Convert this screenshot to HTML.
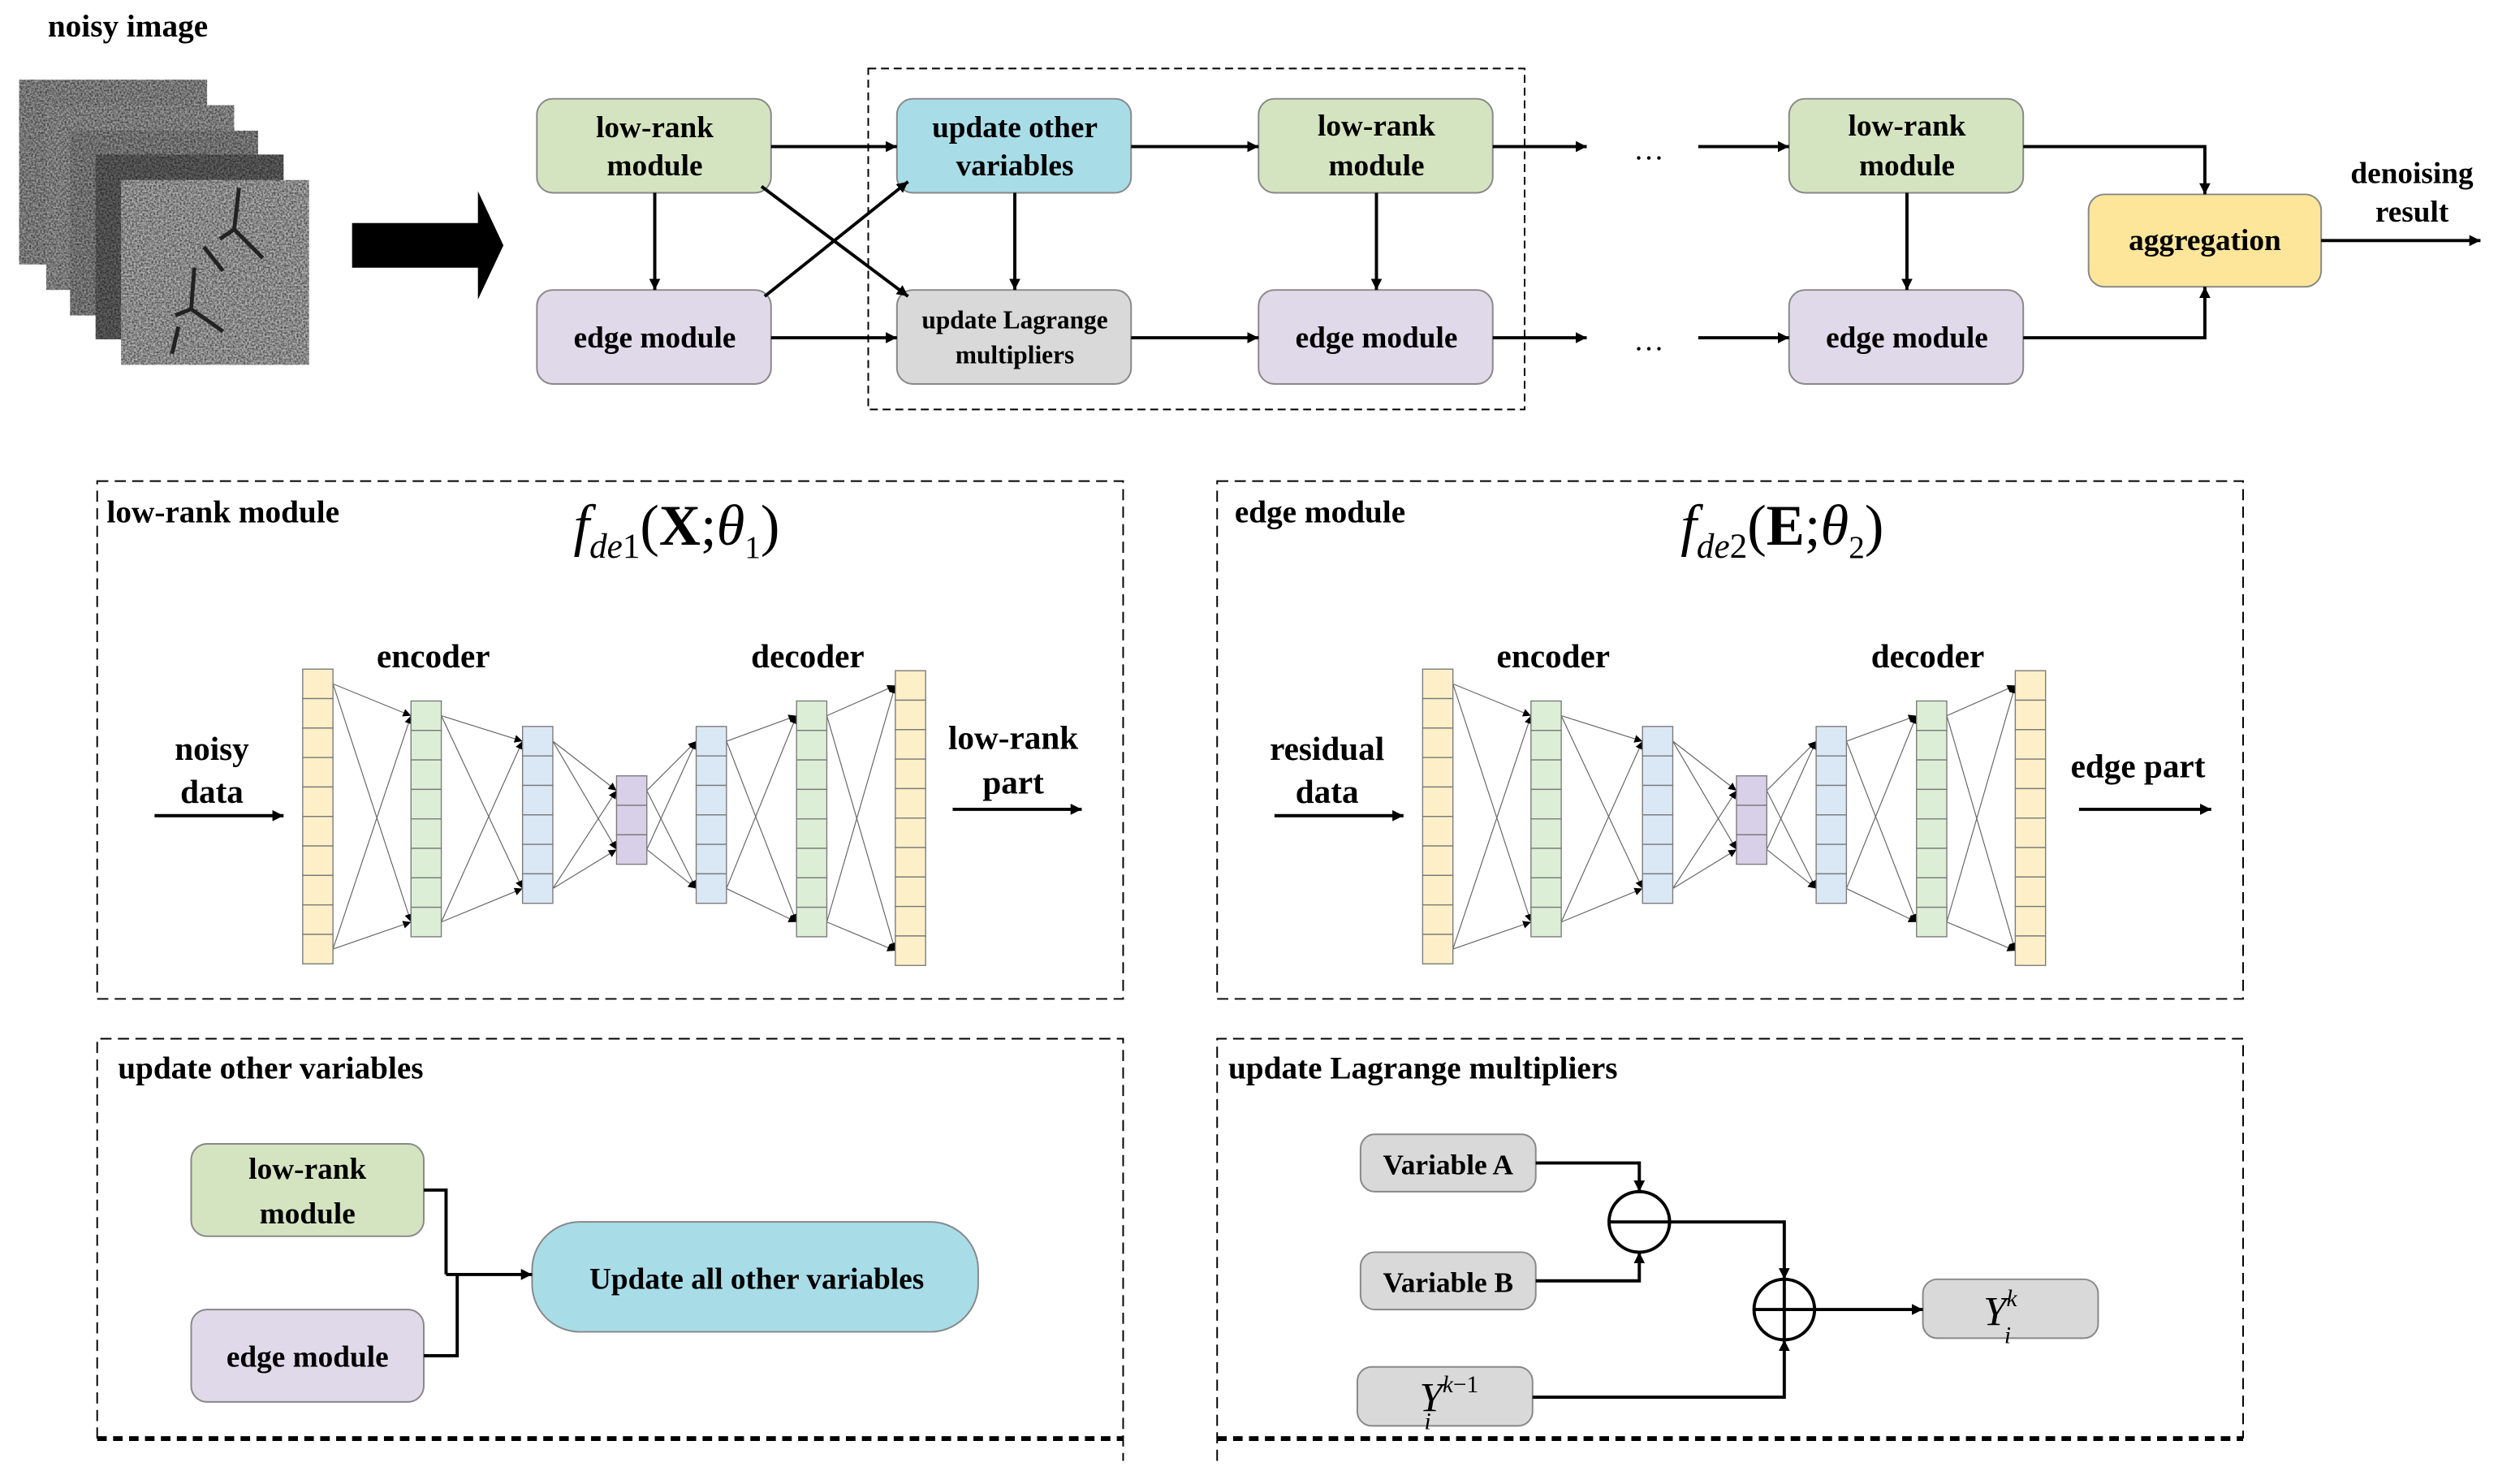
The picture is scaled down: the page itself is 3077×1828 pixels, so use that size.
<!DOCTYPE html>
<html><head><meta charset="utf-8"><style>
html,body{margin:0;padding:0;background:#fff;}
svg{display:block;font-family:"Liberation Serif","Times New Roman",serif;}
svg text{font-family:"Liberation Serif","Times New Roman",serif;font-weight:bold;fill:#000;}
.m{font-size:19px;text-anchor:middle;}
.h{font-size:20px;}
</style></head><body>
<svg id="s" width="3077" height="1828" viewBox="0 0 1568 931.5" font-family="Liberation Serif, serif" xmlns="http://www.w3.org/2000/svg">
<defs>
<marker id="a" viewBox="0 0 10 10" refX="10" refY="5" markerWidth="7" markerHeight="7" orient="auto" markerUnits="userSpaceOnUse"><path d="M0,0L10,5L0,10z" fill="#000"/></marker>
<marker id="sa" viewBox="0 0 10 10" refX="10" refY="5" markerWidth="5" markerHeight="5" orient="auto" markerUnits="userSpaceOnUse"><path d="M0,0L10,5L0,10z" fill="#000"/></marker>
<filter id="n" x="0" y="0" width="1" height="1"><feTurbulence type="fractalNoise" baseFrequency="0.9" numOctaves="2" seed="3"/><feColorMatrix type="matrix" values="0 0 0 0 0 0 0 0 0 0 0 0 0 0 0 0 0 0 -1.2 0.85"/><feComposite in2="SourceGraphic" operator="in"/></filter>
</defs>
<text x="30" y="23" class="h">noisy image</text>
<g stroke="none">
<rect x="12" y="50" width="118" height="116" fill="#9a9a9a"/><rect x="12" y="50" width="118" height="116" fill="#fff" filter="url(#n)"/>
<rect x="29" y="66" width="118" height="116" fill="#a0a0a0"/><rect x="29" y="66" width="118" height="116" fill="#fff" filter="url(#n)"/>
<rect x="44" y="82" width="118" height="116" fill="#909090"/><rect x="44" y="82" width="118" height="116" fill="#fff" filter="url(#n)"/>
<rect x="60" y="97" width="118" height="116" fill="#666"/><rect x="60" y="97" width="118" height="116" fill="#fff" filter="url(#n)"/>
<rect x="76" y="113" width="118" height="116" fill="#b4b4b4"/><rect x="76" y="113" width="118" height="116" fill="#fff" filter="url(#n)"/>
</g>
<g stroke="#222" stroke-width="2.5" fill="none"><path d="M150,118L147,144L138,150M147,144L165,162M128,155L140,170"/><path d="M122,168L120,194L110,198M120,194L140,208M112,205L108,222"/></g>
<path d="M221,140H300V120L316,154L300,188V168H221z" fill="#000"/>

<g stroke="#888" stroke-width="1">
<rect x="337" y="62" width="147" height="59" rx="10" fill="#d5e4c0"/>
<rect x="337" y="182" width="147" height="59" rx="10" fill="#e0d9e9"/>
<rect x="563" y="62" width="147" height="59" rx="10" fill="#a8dde8"/>
<rect x="563" y="182" width="147" height="59" rx="10" fill="#d9d9d9"/>
<rect x="790" y="62" width="147" height="59" rx="10" fill="#d5e4c0"/>
<rect x="790" y="182" width="147" height="59" rx="10" fill="#e0d9e9"/>
<rect x="1123" y="62" width="147" height="59" rx="10" fill="#d5e4c0"/>
<rect x="1123" y="182" width="147" height="59" rx="10" fill="#e0d9e9"/>
<rect x="1311" y="122" width="146" height="58" rx="10" fill="#fde699"/>
</g>
<rect x="545" y="43" width="412" height="214" fill="none" stroke="#000" stroke-dasharray="5,3"/>
<text class="m" x="411" y="86">low-rank</text><text class="m" x="411" y="110">module</text>
<text class="m" x="411" y="218">edge module</text>
<text class="m" x="637" y="86">update other</text><text class="m" x="637" y="110">variables</text>
<text class="m" x="637" y="206" style="font-size:16px">update Lagrange</text><text class="m" x="637" y="228" style="font-size:16px">multipliers</text>
<text class="m" x="864" y="85">low-rank</text><text class="m" x="864" y="110">module</text>
<text class="m" x="864" y="218">edge module</text>
<text class="m" x="1197" y="85">low-rank</text><text class="m" x="1197" y="110">module</text>
<text class="m" x="1197" y="218">edge module</text>
<text class="m" x="1384" y="157">aggregation</text>
<text class="m" x="1514" y="115">denoising</text><text class="m" x="1514" y="139">result</text>
<text class="m" x="1035" y="100" style="font-weight:normal">…</text>
<text class="m" x="1035" y="220" style="font-weight:normal">…</text>
<g stroke="#000" stroke-width="2" fill="none" marker-end="url(#a)">
<path d="M484,92H563"/><path d="M484,212H563"/>
<path d="M478,117L570,186"/><path d="M480,186L570,114"/>
<path d="M411,121V182"/><path d="M637,121V182"/>
<path d="M710,92H790"/><path d="M710,212H790"/>
<path d="M864,121V182"/><path d="M1197,121V182"/>
<path d="M937,92H996"/><path d="M937,212H996"/>
<path d="M1066,92H1123"/><path d="M1066,212H1123"/>
<path d="M1270,92H1384V122"/><path d="M1270,212H1384V180"/>
<path d="M1457,151H1557"/>
</g>

<g fill="none" stroke="#000" stroke-dasharray="7,4">
<rect x="61" y="302" width="644" height="325"/>
<rect x="764" y="302" width="644" height="325"/>
<path d="M61,903V652H705V917M764,917V652H1408V903"/>
</g>
<path d="M61,903H705M764,903H1408" stroke="#000" stroke-width="3" stroke-dasharray="6,4"/>
<text x="67" y="328" class="h">low-rank module</text>
<text x="775" y="328" class="h">edge module</text>
<text x="74" y="677" class="h">update other variables</text>
<text x="771" y="677" class="h">update Lagrange multipliers</text>
<text x="360" y="342" style="font-size:36px;font-weight:normal"><tspan font-style="italic">f</tspan><tspan font-style="italic" font-size="22" dy="8">de</tspan><tspan font-size="22">1</tspan><tspan dy="-8">(</tspan><tspan font-weight="bold">X</tspan><tspan>;</tspan><tspan font-style="italic">θ</tspan><tspan font-size="20" dy="8">1</tspan><tspan dy="-8">)</tspan></text>
<text x="1055" y="342" style="font-size:36px;font-weight:normal"><tspan font-style="italic">f</tspan><tspan font-style="italic" font-size="22" dy="8">de</tspan><tspan font-size="22">2</tspan><tspan dy="-8">(</tspan><tspan font-weight="bold">E</tspan><tspan>;</tspan><tspan font-style="italic">θ</tspan><tspan font-size="20" dy="8">2</tspan><tspan dy="-8">)</tspan></text>
<g id="net"></g>
<text class="m" x="272" y="419" style="font-size:21px">encoder</text>
<text class="m" x="507" y="419" style="font-size:21px">decoder</text>
<text class="m" x="133" y="477" style="font-size:21px">noisy</text><text class="m" x="133" y="504" style="font-size:21px">data</text>
<text class="m" x="636" y="470" style="font-size:21px">low-rank</text><text class="m" x="636" y="498" style="font-size:21px">part</text>
<text class="m" x="975" y="419" style="font-size:21px">encoder</text>
<text class="m" x="1210" y="419" style="font-size:21px">decoder</text>
<text class="m" x="833" y="477" style="font-size:21px">residual</text><text class="m" x="833" y="504" style="font-size:21px">data</text>
<text class="m" x="1342" y="488" style="font-size:21px">edge part</text>
<g stroke="#000" stroke-width="2" marker-end="url(#a)">
<path d="M97,512H178"/><path d="M598,508H679"/>
<path d="M800,512H881"/><path d="M1305,508H1388"/>
</g>

<g stroke="#888" stroke-width="1">
<rect x="120" y="718" width="146" height="58" rx="10" fill="#d5e4c0"/>
<rect x="120" y="822" width="146" height="58" rx="10" fill="#e0d9e9"/>
<rect x="334" y="767" width="280" height="69" rx="30" fill="#a8dde8"/>
<rect x="854" y="712" width="110" height="36" rx="9" fill="#d9d9d9"/>
<rect x="854" y="786" width="110" height="36" rx="9" fill="#d9d9d9"/>
<rect x="852" y="858" width="110" height="37" rx="9" fill="#d9d9d9"/>
<rect x="1207" y="803" width="110" height="37" rx="9" fill="#d9d9d9"/>
</g>
<text class="m" x="193" y="740">low-rank</text><text class="m" x="193" y="768">module</text>
<text class="m" x="193" y="858">edge module</text>
<text class="m" x="475" y="809">Update all other variables</text>
<text class="m" x="909" y="737" style="font-size:18px">Variable A</text>
<text class="m" x="909" y="811" style="font-size:18px">Variable B</text>
<text x="891" y="886" style="font-size:26px;font-weight:normal;font-style:italic">Y<tspan font-size="15" dy="-12">k</tspan><tspan font-size="15" font-style="normal">−1</tspan><tspan font-size="15" dx="-34" dy="23">i</tspan></text>
<text x="1245" y="832" style="font-size:26px;font-weight:normal;font-style:italic">Y<tspan font-size="15" dy="-12">k</tspan><tspan font-size="15" dx="-8" dy="23">i</tspan></text>
<g fill="none" stroke="#000" stroke-width="2">
<path d="M266,747H280V800"/><path d="M266,851H287V800"/>
<path d="M280,800H334" marker-end="url(#a)"/>
<path d="M964,730H1029V748" marker-end="url(#a)"/>
<path d="M964,804H1029V786" marker-end="url(#a)"/>
<path d="M1048,767H1120V803" marker-end="url(#a)"/>
<path d="M962,877H1120V841" marker-end="url(#a)"/>
<path d="M1139,822H1207" marker-end="url(#a)"/>
<circle cx="1029" cy="767" r="19"/><path d="M1010,767H1048"/>
<circle cx="1120" cy="822" r="19"/><path d="M1101,822H1139M1120,803V841"/>
</g>
</svg>
<script>
(function(){
var g=document.getElementById('net'),NS='http://www.w3.org/2000/svg';
function el(t,a){var e=document.createElementNS(NS,t);for(var k in a)e.setAttribute(k,a[k]);g.appendChild(e);return e;}
var cols=[[190,420,10,'#fdf0c8'],[258,440,8,'#dcefd6'],[328,456,6,'#dae8f5'],[387,487,3,'#d8d0e8'],[437,456,6,'#dae8f5'],[500,440,8,'#dcefd6'],[562,421,10,'#fdf0c8']];
var ch=18.5,w=19;
[0,703].forEach(function(off){
 for(var i=0;i<cols.length-1;i++){
  var a=cols[i],b=cols[i+1];
  var sy=[a[1]+ch/2,a[1]+ch*(a[2]-0.5)],ty=[b[1]+ch/2,b[1]+ch*(b[2]-0.5)];
  for(var p=0;p<2;p++)for(var q=0;q<2;q++)
   el('line',{x1:a[0]+w+off,y1:sy[p],x2:b[0]+off,y2:ty[q],stroke:'#666','stroke-width':0.6,'marker-end':'url(#sa)'});
 }
 cols.forEach(function(c){
  for(var k=0;k<c[2];k++)el('rect',{x:c[0]+off,y:c[1]+k*ch,width:w,height:ch,fill:c[3],stroke:'#7a7a7a','stroke-width':0.7});
 });
});
})();
</script>
</body></html>
